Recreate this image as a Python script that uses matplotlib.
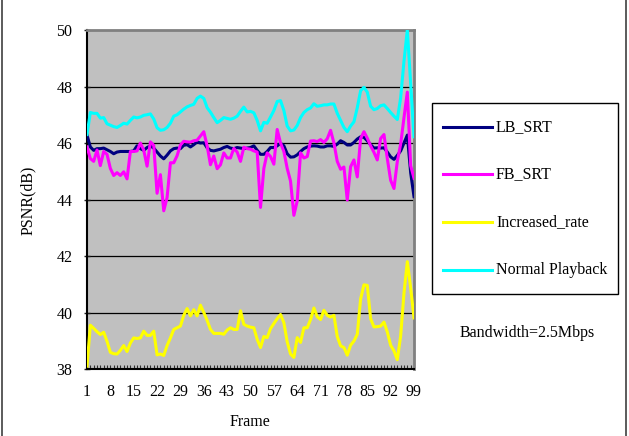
import numpy as np
import matplotlib
matplotlib.use("Agg")
import matplotlib.pyplot as plt
from matplotlib.lines import Line2D
from matplotlib.patches import Rectangle

frames = list(range(1, 100))
tick_labels = [str(f) if (f - 1) % 7 == 0 else "" for f in frames]

series_names = ["LB_SRT", "FB_SRT", "Increased_rate", "Normal Playback"]
series_colors = ["#000080", "#FF00FF", "#FFFF00", "#00FFFF"]

lb_srt = [46.28, 45.86, 45.74, 45.80, 45.80, 45.82, 45.76, 45.70, 45.62, 45.68,
          45.70, 45.70, 45.70, 45.70, 45.72, 45.90, 45.80, 45.74, 45.84, 45.90,
          45.82, 45.68, 45.54, 45.44, 45.57, 45.72, 45.80, 45.82, 45.80, 45.92,
          45.94, 45.86, 45.94, 46.04, 46.00, 46.01, 45.83, 45.74, 45.72, 45.75,
          45.78, 45.84, 45.88, 45.82, 45.80, 45.84, 45.82, 45.80, 45.82, 45.84,
          45.90, 45.74, 45.60, 45.60, 45.70, 45.84, 45.84, 45.90, 45.99, 45.90,
          45.62, 45.50, 45.51, 45.58, 45.70, 45.80, 45.86, 45.89, 45.90, 45.89,
          45.86, 45.86, 45.90, 45.90, 45.88, 45.96, 46.08, 46.02, 45.93, 45.93,
          46.02, 46.14, 46.22, 46.20, 46.08, 45.94, 45.82, 45.83, 45.82, 45.83,
          45.68, 45.51, 45.42, 45.56, 45.72, 46.00, 46.28, 44.95, 44.10]

fb_srt = [45.86, 45.45, 45.35, 45.75, 45.20, 45.70, 45.60, 45.10, 44.85, 44.95,
          44.85, 44.98, 44.73, 45.70, 45.70, 45.72, 46.00, 45.75, 45.18, 46.04,
          45.92, 44.22, 44.88, 43.60, 44.07, 45.30, 45.30, 45.55, 45.93, 46.06,
          46.04, 46.03, 46.08, 46.10, 46.25, 46.40, 45.90, 45.23, 45.54, 45.09,
          45.23, 45.65, 45.47, 45.47, 45.81, 45.68, 45.35, 45.85, 45.80, 45.78,
          45.72, 45.68, 43.72, 45.10, 45.65, 45.52, 45.25, 46.48, 46.00, 45.70,
          45.10, 44.65, 43.44, 43.95, 45.65, 45.47, 45.52, 46.07, 46.08, 46.05,
          46.12, 46.02, 46.15, 46.45, 46.00, 45.35, 45.07, 45.15, 43.98, 45.16,
          45.40, 44.80, 46.16, 46.40, 46.17, 45.90, 45.67, 45.40, 46.16, 46.30,
          45.45, 44.68, 44.39, 45.35, 45.96, 46.90, 47.80, 45.20, 44.75]

increased_rate = [38.10, 39.55, 39.44, 39.32, 39.22, 39.30, 38.98, 38.59, 38.54, 38.53,
                  38.66, 38.83, 38.62, 38.92, 39.10, 39.08, 39.10, 39.34, 39.19, 39.19,
                  39.34, 38.50, 38.53, 38.48, 38.83, 39.10, 39.40, 39.46, 39.52, 39.90,
                  40.14, 39.88, 40.10, 39.88, 40.26, 40.00, 39.72, 39.40, 39.26, 39.26,
                  39.26, 39.23, 39.38, 39.46, 39.40, 39.40, 40.06, 39.58, 39.52, 39.48,
                  39.46, 39.05, 38.76, 39.15, 39.11, 39.43, 39.61, 39.78, 39.93, 39.64,
                  38.96, 38.53, 38.41, 39.11, 38.94, 39.46, 39.46, 39.75, 40.16, 39.85,
                  39.75, 40.08, 39.90, 39.84, 39.90, 39.15, 38.82, 38.76, 38.49, 38.84,
                  38.99, 39.23, 40.48, 40.98, 40.96, 39.78, 39.49, 39.50, 39.52, 39.66,
                  39.31, 38.84, 38.64, 38.33, 39.17, 40.69, 41.80, 40.87, 39.81]

normal_playback = [46.30, 47.08, 47.05, 47.05, 46.88, 46.90, 46.68, 46.63, 46.58, 46.55,
                   46.62, 46.70, 46.67, 46.80, 46.92, 46.89, 46.92, 46.98, 47.00, 47.03,
                   46.85, 46.54, 46.45, 46.47, 46.55, 46.70, 46.95, 47.00, 47.10, 47.20,
                   47.28, 47.33, 47.37, 47.58, 47.66, 47.58, 47.25, 47.09, 46.90, 46.72,
                   46.80, 46.90, 46.87, 46.84, 46.88, 46.95, 47.12, 47.27, 47.10, 47.12,
                   47.07, 46.80, 46.43, 46.73, 46.70, 46.92, 47.15, 47.47, 47.50, 47.15,
                   46.60, 46.43, 46.46, 46.62, 46.90, 47.08, 47.18, 47.24, 47.39, 47.30,
                   47.32, 47.35, 47.35, 47.38, 47.38, 47.05, 46.80, 46.55, 46.40, 46.60,
                   46.75, 47.25, 47.85, 47.97, 47.80, 47.30, 47.18, 47.22, 47.32, 47.35,
                   47.22, 47.08, 46.95, 46.83, 47.60, 48.90, 50.00, 48.10, 46.22]

y_ticks = [38, 40, 42, 44, 46, 48, 50]

plt.rcParams['font.family'] = ['Liberation Serif', 'DejaVu Serif']
FS = 11.5

W, H = 629, 436
fig = plt.figure(figsize=(W / 100, H / 100), dpi=100)

def fx(px):
    return px / W

def fy(py):
    return 1 - py / H

L, R, T, B = 87, 414, 30, 369
ax = fig.add_axes([fx(L), fy(B), (R - L) / W, (B - T) / H])
ax.set_facecolor("#C0C0C0")

all_series = [lb_srt, fb_srt, increased_rate, normal_playback]
for vals, col in zip(all_series, series_colors):
    ax.plot(frames, vals, color=col, lw=2.2, solid_joinstyle='round', zorder=3)

ax.set_xlim(1, 99)
ax.set_ylim(38, 50)
ax.set_yticks(y_ticks)
ax.set_yticklabels([str(v) for v in y_ticks], fontsize=FS)
ax.set_xticks(frames)
ax.set_xticklabels(tick_labels, fontsize=FS)
ax.tick_params(axis='x', direction='in', length=3.2, width=0.8, color='#303030', pad=11)
ax.tick_params(axis='y', direction='inout', length=4, width=1.0, color='#202020', pad=8.5)

for v in y_ticks[1:-1]:
    ax.axhline(v, color='black', lw=0.9, zorder=1)

for s in ['left', 'bottom']:
    ax.spines[s].set_color('black')
    ax.spines[s].set_linewidth(1.5)
for s in ['top', 'right']:
    ax.spines[s].set_color('#808080')
    ax.spines[s].set_linewidth(2.0)

fig.text(fx(28), fy(200), "PSNR(dB)", rotation=90, ha='center', va='center', fontsize=FS)
fig.text(fx(250), fy(422), "Frame", ha='center', va='center', fontsize=FS)

# legend box
fig.add_artist(Rectangle((fx(432), fy(294)), (618 - 432) / W, (294 - 103) / H,
                         transform=fig.transFigure, facecolor='white',
                         edgecolor='black', lw=1.0))
rows = [127, 174, 222, 270]
for name, col, ry in zip(series_names, series_colors, rows):
    fig.add_artist(Line2D([fx(443), fx(492)], [fy(ry), fy(ry)], color=col, lw=2.2,
                          transform=fig.transFigure))
    fig.text(fx(496), fy(ry), name, ha='left', va='center', fontsize=FS)

fig.text(fx(527), fy(333), "Bandwidth=2.5Mbps", ha='center', va='center', fontsize=FS)

# outer frame side lines
fig.add_artist(Line2D([fx(2), fx(2)], [0, 1], color='#404040', lw=1.2, transform=fig.transFigure))
fig.add_artist(Line2D([fx(626), fx(626)], [0, 1], color='#404040', lw=1.2, transform=fig.transFigure))

fig.savefig("out.png", dpi=100, facecolor='white')
